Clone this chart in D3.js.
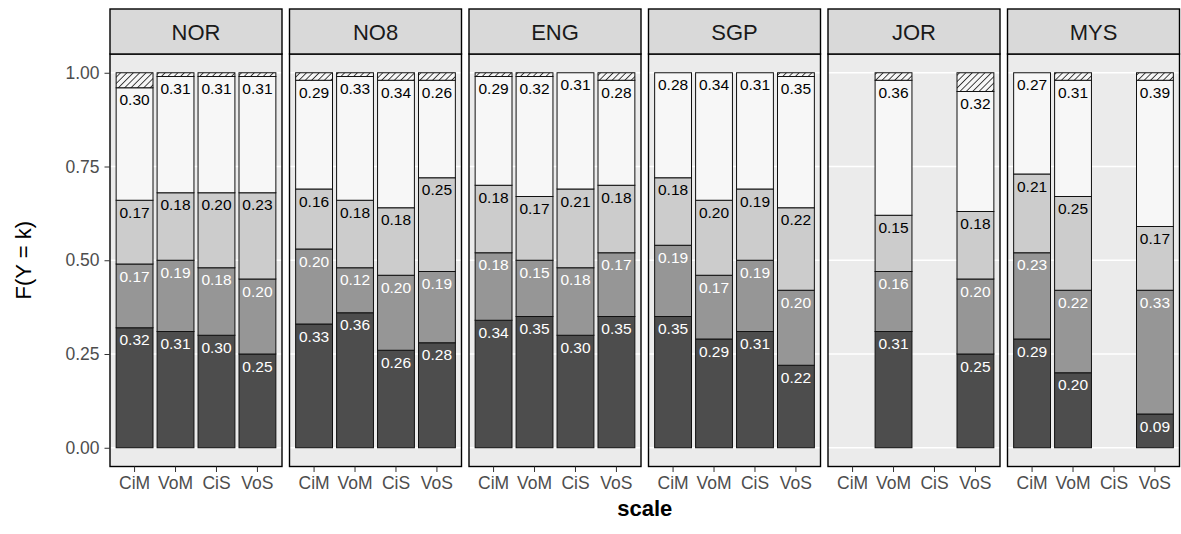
<!DOCTYPE html>
<html>
<head>
<meta charset="utf-8">
<script src="https://cdn.jsdelivr.net/npm/d3@7"></script>
<style>
  html, body { margin: 0; padding: 0; background: #ffffff; }
  svg { display: block; font-family: "Liberation Sans", Arial, Helvetica, sans-serif; }
</style>
</head>
<body>
<div id="chart"></div>
<script>
// ---------- data ----------
const panels = ["NOR", "NO8", "ENG", "SGP", "JOR", "MYS"];
const scales = ["CiM", "VoM", "CiS", "VoS"];
const levels = ["k1", "k2", "k3", "k4", "k5"];
const yTicks = [0, 0.25, 0.5, 0.75, 1.0];

// one row per panel, one value per scale (null = no bar)
const k1 = [
  [0.32, 0.31, 0.30, 0.25],
  [0.33, 0.36, 0.26, 0.28],
  [0.34, 0.35, 0.30, 0.35],
  [0.35, 0.29, 0.31, 0.22],
  [null, 0.31, null, 0.25],
  [0.29, 0.20, null, 0.09]
];
const k2 = [
  [0.17, 0.19, 0.18, 0.20],
  [0.20, 0.12, 0.20, 0.19],
  [0.18, 0.15, 0.18, 0.17],
  [0.19, 0.17, 0.19, 0.20],
  [null, 0.16, null, 0.20],
  [0.23, 0.22, null, 0.33]
];
const k3 = [
  [0.17, 0.18, 0.20, 0.23],
  [0.16, 0.18, 0.18, 0.25],
  [0.18, 0.17, 0.21, 0.18],
  [0.18, 0.20, 0.19, 0.22],
  [null, 0.15, null, 0.18],
  [0.21, 0.25, null, 0.17]
];
const k4 = [
  [0.30, 0.31, 0.31, 0.31],
  [0.29, 0.33, 0.34, 0.26],
  [0.29, 0.32, 0.31, 0.28],
  [0.28, 0.34, 0.31, 0.35],
  [null, 0.36, null, 0.32],
  [0.27, 0.31, null, 0.39]
];
const k5 = [
  [0.04, 0.01, 0.01, 0.01],
  [0.02, 0.01, 0.02, 0.02],
  [0.01, 0.01, 0.00, 0.02],
  [0.00, 0.00, 0.00, 0.01],
  [null, 0.02, null, 0.05],
  [0.00, 0.02, null, 0.02]
];
const series = [k1, k2, k3, k4, k5];

// ---------- layout ----------
const W = 1181, H = 534;
const panelX0 = 110, panelW = 172, panelGap = 7.5;
const stripTop = 9, stripBottom = 54, plotBottom = 466.5;

const fills = { k1: "#4d4d4d", k2: "#969696", k3: "#cccccc", k4: "#f7f7f7", k5: "url(#hatch)" };
const textCols = { k1: "#ffffff", k2: "#ffffff", k3: "#000000", k4: "#000000" };

const svg = d3.select("#chart").append("svg")
  .attr("width", W).attr("height", H);

const defs = svg.append("defs");
const pat = defs.append("pattern")
  .attr("id", "hatch")
  .attr("patternUnits", "userSpaceOnUse")
  .attr("width", 4.5).attr("height", 4.5)
  .attr("patternTransform", "rotate(45)");
pat.append("rect").attr("width", 4.5).attr("height", 4.5).attr("fill", "#f7f7f7");
pat.append("line").attr("x1", 0).attr("y1", 0).attr("x2", 0).attr("y2", 4.5)
  .attr("stroke", "#333333").attr("stroke-width", 1.8);

const y = d3.scaleLinear().domain([-0.05, 1.05]).range([plotBottom, stripBottom]);
const x = d3.scaleBand().domain(scales).range([0, panelW]).paddingInner(0.1).paddingOuter(0.15);
const plotRight = panelX0 + 6 * panelW + 5 * panelGap;

panels.forEach((p, pi) => {
  const x0 = panelX0 + pi * (panelW + panelGap);
  const g = svg.append("g").attr("transform", `translate(${x0},0)`);

  // panel background
  g.append("rect").attr("x", 0).attr("y", stripBottom)
    .attr("width", panelW).attr("height", plotBottom - stripBottom)
    .attr("fill", "#ebebeb");

  // grid
  g.selectAll("line.grid").data(yTicks).enter().append("line")
    .attr("x1", 0).attr("x2", panelW)
    .attr("y1", d => y(d)).attr("y2", d => y(d))
    .attr("stroke", "#ffffff").attr("stroke-width", 1.3);

  // stacked bars
  scales.forEach((s, si) => {
    if (k1[pi][si] == null) return;
    let cum = 0;
    series.forEach((arr, li) => {
      const v = arr[pi][si];
      const lo = cum, hi = cum + v;
      cum = hi;
      if (v <= 0) return;
      g.append("rect")
        .attr("x", x(s)).attr("width", x.bandwidth())
        .attr("y", y(hi)).attr("height", y(lo) - y(hi))
        .attr("fill", fills[levels[li]])
        .attr("stroke", "#111111").attr("stroke-width", 1);
    });
    // labels
    cum = 0;
    series.slice(0, 4).forEach((arr, li) => {
      const v = arr[pi][si];
      cum += v;
      g.append("text")
        .attr("x", x(s) + x.bandwidth() / 2)
        .attr("y", y(cum) + 17.5)
        .attr("text-anchor", "middle")
        .attr("font-size", 15.5)
        .attr("fill", textCols[levels[li]])
        .text(v.toFixed(2));
    });
  });

  // panel border
  g.append("rect").attr("x", 0).attr("y", stripBottom)
    .attr("width", panelW).attr("height", plotBottom - stripBottom)
    .attr("fill", "none").attr("stroke", "#000000").attr("stroke-width", 1.4);

  // strip
  g.append("rect").attr("x", 0).attr("y", stripTop)
    .attr("width", panelW).attr("height", stripBottom - stripTop)
    .attr("fill", "#d9d9d9").attr("stroke", "#000000").attr("stroke-width", 1.4);
  g.append("text")
    .attr("x", panelW / 2).attr("y", (stripTop + stripBottom) / 2 + 8)
    .attr("text-anchor", "middle").attr("font-size", 22)
    .attr("fill", "#1a1a1a").text(p);

  // x axis
  const xa = g.append("g").attr("transform", `translate(0,${plotBottom})`)
    .call(d3.axisBottom(x).tickSize(5.5).tickSizeOuter(0).tickPadding(4.5));
  xa.select(".domain").remove();
  xa.selectAll(".tick line").attr("stroke", "#333333").attr("stroke-width", 1);
  xa.selectAll(".tick text").attr("font-size", 17.5).attr("fill", "#4d4d4d")
    .attr("font-family", "'Liberation Sans', Arial, sans-serif");

  if (pi === 0) {
    const ya = g.append("g")
      .call(d3.axisLeft(y).tickValues(yTicks).tickFormat(d3.format(".2f")).tickSize(5.5).tickPadding(5));
    ya.select(".domain").remove();
    ya.selectAll(".tick line").attr("stroke", "#333333").attr("stroke-width", 1);
    ya.selectAll(".tick text").attr("font-size", 17.5).attr("fill", "#4d4d4d")
      .attr("font-family", "'Liberation Sans', Arial, sans-serif");
  }
});

// axis titles
svg.append("text")
  .attr("x", (panelX0 + plotRight) / 2)
  .attr("y", 516)
  .attr("text-anchor", "middle").attr("font-size", 22).attr("font-weight", "bold")
  .attr("fill", "#000000").text("scale");

svg.append("text")
  .attr("transform", `translate(31,${(stripBottom + plotBottom) / 2}) rotate(-90)`)
  .attr("text-anchor", "middle").attr("font-size", 22)
  .attr("fill", "#000000").text("F(Y = k)");
</script>
</body>
</html>
